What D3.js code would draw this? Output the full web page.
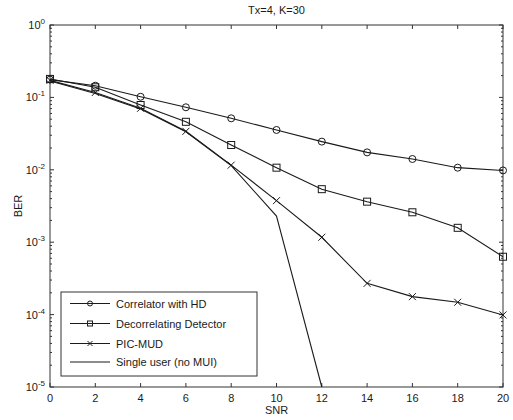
<!DOCTYPE html>
<html><head><meta charset="utf-8">
<script src="https://cdn.jsdelivr.net/npm/d3@7"></script>
<style>body{margin:0;background:#fff;}svg{display:block;font-family:"Liberation Sans",Arial,sans-serif;}</style>
</head><body>
<svg id="c" width="513" height="420"></svg>
<script>
const snr = [0,2,4,6,8,10,12,14,16,18,20];
const correlator = [0.176,0.145,0.102,0.073,0.0514,0.0355,0.0245,0.0174,0.0141,0.0107,0.0098];
const decorrelating = [0.18,0.138,0.0785,0.046,0.022,0.0107,0.0054,0.00363,0.00259,0.00158,0.00063];
const picMud = [0.172,0.117,0.0707,0.0340,0.0116,0.00375,0.00117,0.00027,0.000177,0.000148,0.0000989];
const snrSingle = [0,2,4,6,8,10,12];
const singleUser = [0.168,0.113,0.069,0.0335,0.0114,0.0023,0.00001];
const xTicks = [0,2,4,6,8,10,12,14,16,18,20];
const yTicks = [1,0.1,0.01,0.001,0.0001,0.00001];
const seriesNames = ["Correlator with HD","Decorrelating Detector","PIC-MUD","Single user (no MUI)"];
const markers = ["circle","square","cross","none"];

const svg = d3.select("#c");
const L=50,R=503,T=25,B=387;
const x = d3.scaleLinear().domain([0,20]).range([L,R]);
const y = d3.scaleLog().domain([1e-5,1]).range([B,T]);
const ink="#1a1a1a", axc="#333";

svg.append("rect").attr("x",L).attr("y",T).attr("width",R-L).attr("height",B-T)
  .attr("fill","none").attr("stroke",axc).attr("stroke-width",1);

const tl=4;
xTicks.forEach(t=>{
  const px=x(t);
  svg.append("line").attr("x1",px).attr("x2",px).attr("y1",B).attr("y2",B-tl).attr("stroke",axc);
  svg.append("line").attr("x1",px).attr("x2",px).attr("y1",T).attr("y2",T+tl).attr("stroke",axc);
  svg.append("text").attr("x",px).attr("y",B+15).attr("text-anchor","middle")
    .attr("font-size",11).attr("fill",ink).text(t);
});
yTicks.forEach(v=>{
  const e=Math.round(Math.log10(v)), py=y(v);
  svg.append("line").attr("x1",L).attr("x2",L+tl).attr("y1",py).attr("y2",py).attr("stroke",axc);
  svg.append("line").attr("x1",R).attr("x2",R-tl).attr("y1",py).attr("y2",py).attr("stroke",axc);
  const g=svg.append("text").attr("x",L-5).attr("y",py+4).attr("text-anchor","end").attr("font-size",11).attr("fill",ink);
  g.append("tspan").text("10");
  g.append("tspan").attr("dy",-5).attr("font-size",8).text(e===0?"0":"-"+(-e));
  if(e<0){
    for(let m=2;m<=9;m++){
      const pm=y(m*v);
      svg.append("line").attr("x1",L).attr("x2",L+2).attr("y1",pm).attr("y2",pm).attr("stroke",axc);
      svg.append("line").attr("x1",R).attr("x2",R-2).attr("y1",pm).attr("y2",pm).attr("stroke",axc);
    }
  }
});
svg.append("text").attr("x",x(10)).attr("y",14).attr("text-anchor","middle").attr("font-size",11).attr("fill",ink).text("Tx=4, K=30");
svg.append("text").attr("x",x(10)).attr("y",414).attr("text-anchor","middle").attr("font-size",11).attr("fill",ink).text("SNR");
svg.append("text").attr("transform","translate(22,"+((T+B)/2)+") rotate(-90)").attr("text-anchor","middle").attr("font-size",11).attr("fill",ink).text("BER");

const line = d3.line().x(d=>x(d[0])).y(d=>y(d[1]));
function drawMarker(g,type,px,py,s){
  if(type==="circle") g.append("circle").attr("cx",px).attr("cy",py).attr("r",s).attr("fill","none").attr("stroke",ink);
  else if(type==="square") g.append("rect").attr("x",px-s).attr("y",py-s).attr("width",2*s).attr("height",2*s).attr("fill","none").attr("stroke",ink);
  else if(type==="cross"){ g.append("path").attr("d",`M${px-s},${py-s}L${px+s},${py+s}M${px-s},${py+s}L${px+s},${py-s}`).attr("stroke",ink); }
}
const allData=[
  snr.map((s,i)=>[s,correlator[i]]),
  snr.map((s,i)=>[s,decorrelating[i]]),
  snr.map((s,i)=>[s,picMud[i]]),
  snrSingle.map((s,i)=>[s,singleUser[i]])
];
const plot=svg.append("g");
allData.forEach((d,k)=>{
  plot.append("path").attr("d",line(d)).attr("fill","none").attr("stroke",ink).attr("stroke-width",1.1);
  if(markers[k]!=="none") d.forEach(p=>drawMarker(plot,markers[k],x(p[0]),y(p[1]),3.5));
});

const lg=svg.append("g");
lg.append("rect").attr("x",61).attr("y",292).attr("width",196).attr("height",84).attr("fill","#fff").attr("stroke",axc);
const rowsY=[303.5,323.5,343.5,362];
seriesNames.forEach((n,k)=>{
  const ry=rowsY[k];
  lg.append("line").attr("x1",70).attr("x2",110).attr("y1",ry).attr("y2",ry).attr("stroke",ink).attr("stroke-width",1.1);
  if(markers[k]!=="none") drawMarker(lg,markers[k],90,ry,2.5);
  lg.append("text").attr("x",116).attr("y",ry+4).attr("font-size",11).attr("fill",ink).text(n);
});
</script>
</body></html>
